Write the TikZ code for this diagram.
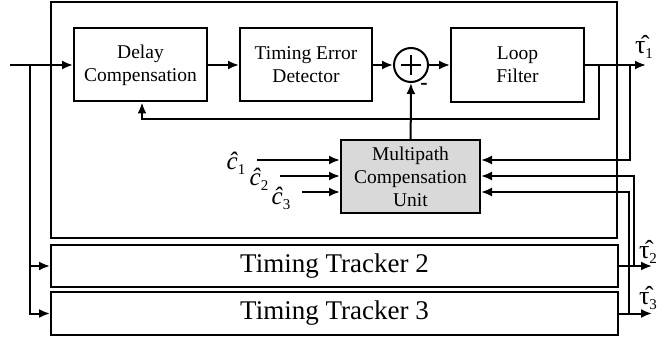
\documentclass[tikz,border=0pt]{standalone}
\usepackage{fontspec}
\setmainfont{Liberation Serif}
\usetikzlibrary{arrows.meta}
\newcommand{\sbx}[1]{\raisebox{-5pt}{\upshape\fontsize{15}{16}\selectfont #1}}
\begin{document}
\begin{tikzpicture}[x=1pt,y=-1pt,
  box/.style={draw, line width=2pt, inner sep=0pt, align=center, font=\fontsize{19.5}{23}\selectfont},
  big/.style={draw, line width=2pt, inner sep=0pt, font=\fontsize{27}{30}\selectfont},
  wire/.style={line width=2pt},
  arr/.style={wire, -{Latex[length=11pt,width=9pt]}},
  lab/.style={font=\fontsize{26}{28}\selectfont, inner sep=0pt},
  clab/.style={font=\fontsize{25}{27}\selectfont\itshape, inner sep=0pt}]
\useasboundingbox (0,0) rectangle (664,339);
% blocks
\node[big, minimum width=566pt, minimum height=236pt] (outer) at (334,120) {};
\node[big, minimum width=567pt, minimum height=42pt] (tt2) at (334.5,266) {Timing Tracker 2};
\node[big, minimum width=567pt, minimum height=43pt] (tt3) at (334.5,313.5) {Timing Tracker 3};
\node[box, minimum width=133pt, minimum height=73pt] (dc) at (140.5,65) {Delay\\Compensation};
\node[box, minimum width=132pt, minimum height=73pt] (ted) at (306,65) {Timing Error\\Detector};
\node[draw, circle, line width=2pt, minimum size=34pt, inner sep=0pt] (sum) at (411,65) {};
\draw[line width=1.4pt] ([xshift=-10pt]sum.center) -- ([xshift=10pt]sum.center);
\draw[line width=1.4pt] ([yshift=-10pt]sum.center) -- ([yshift=10pt]sum.center);
\node[box, minimum width=133pt, minimum height=74pt] (lf) at (517.5,65) {Loop\\Filter};
\node[box, fill=gray!30, minimum width=139pt, minimum height=73pt] (mcu) at (410.5,176.5) {Multipath\\Compensation\\Unit};
% coordinates
\coordinate (in) at (10,65);
\coordinate (split) at (30,65);
\coordinate (t1) at (646,65);
\coordinate (fb) at (599,65);
\coordinate (fbc) at (142,119);
\coordinate (b1) at (630,65);
\coordinate (t2) at (652,266);
\coordinate (b2) at (634,266);
\coordinate (t3) at (652,313.5);
\coordinate (b3) at (629,313.5);
\coordinate (c1) at (257,160);
\coordinate (c2) at (280,176);
\coordinate (c3) at (302,192);
% connectors
\draw[arr] (in) -- (dc.west);
\draw[arr] (split) |- (tt3.west);
\draw[arr] (split |- tt2.west) -- (tt2.west);
\draw[arr] (dc) -- (ted);
\draw[arr] (ted) -- (sum);
\draw[arr] (sum) -- (lf);
\draw[arr] (lf) -- (t1);
\draw[arr] (fb) |- (fbc) -- (fbc |- dc.south);
\draw[arr] (b1) |- (mcu.east |- c1);
\draw[arr] (b2) |- (mcu.east |- c2);
\draw[arr] (b3) |- (mcu.east |- c3);
\draw[arr] (tt2.east) -- (t2);
\draw[arr] (tt3.east) -- (t3);
\draw[arr] (c1) -- (c1 -| mcu.west);
\draw[arr] (c2) -- (c2 -| mcu.west);
\draw[arr] (c3) -- (c3 -| mcu.west);
\draw[arr] (mcu) -- (sum);
% labels
\node[font=\bfseries\fontsize{22}{24}\selectfont, inner sep=0pt] (minus) at (424,86) {-};
\node[lab] (l1) at (644,47) {τ̂\sbx{1}};
\node[lab] (l2) at (648,252) {τ̂\sbx{2}};
\node[lab] (l3) at (648,298) {τ̂\sbx{3}};
\node[clab] (lc1) at (236,163) {ĉ\sbx{1}};
\node[clab] (lc2) at (259,179) {ĉ\sbx{2}};
\node[clab] (lc3) at (281,198) {ĉ\sbx{3}};
\end{tikzpicture}
\end{document}
